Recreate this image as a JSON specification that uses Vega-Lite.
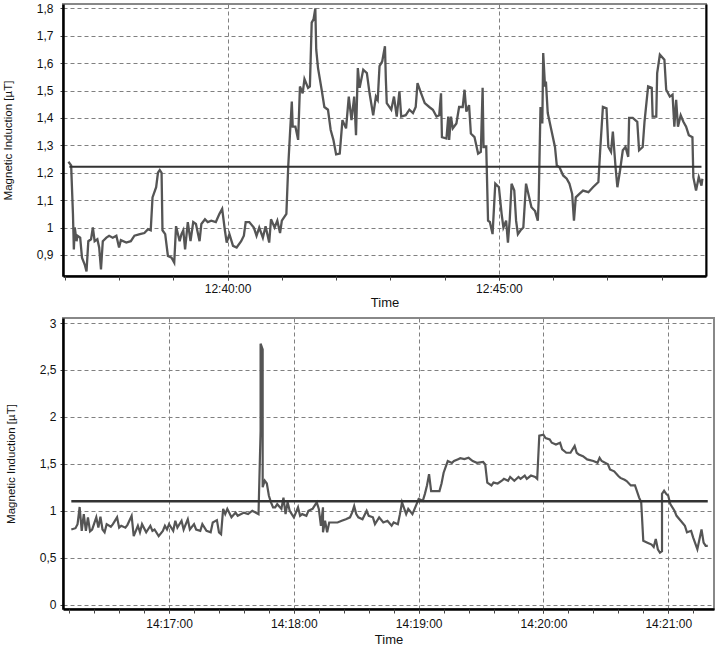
{
"$schema": "https://vega.github.io/schema/vega-lite/v6.json",
"padding": 1,
"spacing": 6,
"config": {
 "view": {"stroke": "#888", "strokeWidth": 2},
 "axis": {"labelFont": "Liberation Sans", "titleFont": "Liberation Sans", "labelFontSize": 12, "labelColor": "#111", "titleColor": "#111", "titleFontWeight": "normal", "domainColor": "#000", "domainWidth": 2.5, "tickColor": "#444", "tickWidth": 1, "gridColor": "#808080", "gridDash": [4, 3], "gridOpacity": 1, "gridWidth": 1, "labelOverlap": false, "labelFlush": false},
 "axisX": {"tickSize": 4, "labelPadding": 3, "titleFontSize": 13, "titlePadding": 2},
 "axisY": {"tickSize": 3, "labelPadding": 4, "titleFontSize": 11.5, "titlePadding": 23}
},
"vconcat": [
{
 "width": 643, "height": 272,
 "resolve": {"axis": {"x": "independent", "y": "independent"}},
 "layer": [
  {
   "data": {"values": [
{"t":"2020-01-01T12:37:04","v":1.24},{"t":"2020-01-01T12:37:07","v":1.227},{"t":"2020-01-01T12:37:09","v":1.05},{"t":"2020-01-01T12:37:10","v":0.92},{"t":"2020-01-01T12:37:11","v":1.0},{"t":"2020-01-01T12:37:13","v":0.95},{"t":"2020-01-01T12:37:14","v":0.97},{"t":"2020-01-01T12:37:17","v":0.963},{"t":"2020-01-01T12:37:19","v":0.89},{"t":"2020-01-01T12:37:22","v":0.865},{"t":"2020-01-01T12:37:24","v":0.84},{"t":"2020-01-01T12:37:26","v":0.95},{"t":"2020-01-01T12:37:29","v":0.957},{"t":"2020-01-01T12:37:31","v":1.0},{"t":"2020-01-01T12:37:33","v":0.95},{"t":"2020-01-01T12:37:36","v":0.957},{"t":"2020-01-01T12:37:38","v":0.927},{"t":"2020-01-01T12:37:40","v":0.847},{"t":"2020-01-01T12:37:42","v":0.95},{"t":"2020-01-01T12:37:46","v":0.963},{"t":"2020-01-01T12:37:49","v":0.97},{"t":"2020-01-01T12:37:53","v":0.963},{"t":"2020-01-01T12:37:57","v":0.97},{"t":"2020-01-01T12:38:00","v":0.927},{"t":"2020-01-01T12:38:02","v":0.954},{"t":"2020-01-01T12:38:08","v":0.945},{"t":"2020-01-01T12:38:13","v":0.95},{"t":"2020-01-01T12:38:17","v":0.97},{"t":"2020-01-01T12:38:23","v":0.976},{"t":"2020-01-01T12:38:28","v":0.98},{"t":"2020-01-01T12:38:32","v":0.994},{"t":"2020-01-01T12:38:35","v":0.99},{"t":"2020-01-01T12:38:37","v":1.11},{"t":"2020-01-01T12:38:41","v":1.147},{"t":"2020-01-01T12:38:43","v":1.2},{"t":"2020-01-01T12:38:45","v":1.21},{"t":"2020-01-01T12:38:47","v":1.2},{"t":"2020-01-01T12:38:48","v":0.99},{"t":"2020-01-01T12:38:51","v":0.976},{"t":"2020-01-01T12:38:54","v":0.896},{"t":"2020-01-01T12:38:58","v":0.89},{"t":"2020-01-01T12:39:01","v":0.872},{"t":"2020-01-01T12:39:03","v":1.005},{"t":"2020-01-01T12:39:07","v":0.95},{"t":"2020-01-01T12:39:09","v":0.976},{"t":"2020-01-01T12:39:11","v":0.99},{"t":"2020-01-01T12:39:13","v":0.92},{"t":"2020-01-01T12:39:16","v":1.02},{"t":"2020-01-01T12:39:19","v":0.95},{"t":"2020-01-01T12:39:22","v":1.02},{"t":"2020-01-01T12:39:25","v":1.013},{"t":"2020-01-01T12:39:29","v":0.95},{"t":"2020-01-01T12:39:31","v":1.013},{"t":"2020-01-01T12:39:35","v":1.03},{"t":"2020-01-01T12:39:38","v":1.02},{"t":"2020-01-01T12:39:42","v":1.025},{"t":"2020-01-01T12:39:47","v":1.02},{"t":"2020-01-01T12:39:51","v":1.05},{"t":"2020-01-01T12:39:54","v":1.068},{"t":"2020-01-01T12:39:57","v":0.99},{"t":"2020-01-01T12:39:59","v":0.945},{"t":"2020-01-01T12:40:02","v":0.976},{"t":"2020-01-01T12:40:06","v":0.933},{"t":"2020-01-01T12:40:10","v":0.927},{"t":"2020-01-01T12:40:15","v":0.95},{"t":"2020-01-01T12:40:18","v":0.97},{"t":"2020-01-01T12:40:20","v":1.02},{"t":"2020-01-01T12:40:24","v":1.02},{"t":"2020-01-01T12:40:29","v":1.0},{"t":"2020-01-01T12:40:32","v":0.97},{"t":"2020-01-01T12:40:35","v":1.0},{"t":"2020-01-01T12:40:39","v":0.963},{"t":"2020-01-01T12:40:42","v":1.005},{"t":"2020-01-01T12:40:46","v":0.945},{"t":"2020-01-01T12:40:48","v":1.03},{"t":"2020-01-01T12:40:52","v":1.0},{"t":"2020-01-01T12:40:55","v":1.025},{"t":"2020-01-01T12:40:58","v":0.98},{"t":"2020-01-01T12:41:00","v":1.025},{"t":"2020-01-01T12:41:05","v":1.05},{"t":"2020-01-01T12:41:07","v":1.22},{"t":"2020-01-01T12:41:09","v":1.343},{"t":"2020-01-01T12:41:11","v":1.46},{"t":"2020-01-01T12:41:12","v":1.368},{"t":"2020-01-01T12:41:15","v":1.368},{"t":"2020-01-01T12:41:18","v":1.32},{"t":"2020-01-01T12:41:20","v":1.515},{"t":"2020-01-01T12:41:23","v":1.49},{"t":"2020-01-01T12:41:25","v":1.542},{"t":"2020-01-01T12:41:29","v":1.51},{"t":"2020-01-01T12:41:31","v":1.515},{"t":"2020-01-01T12:41:33","v":1.748},{"t":"2020-01-01T12:41:35","v":1.76},{"t":"2020-01-01T12:41:37","v":1.8},{"t":"2020-01-01T12:41:38","v":1.65},{"t":"2020-01-01T12:41:40","v":1.582},{"t":"2020-01-01T12:41:44","v":1.503},{"t":"2020-01-01T12:41:47","v":1.44},{"t":"2020-01-01T12:41:51","v":1.43},{"t":"2020-01-01T12:41:54","v":1.356},{"t":"2020-01-01T12:41:57","v":1.32},{"t":"2020-01-01T12:42:00","v":1.267},{"t":"2020-01-01T12:42:04","v":1.27},{"t":"2020-01-01T12:42:07","v":1.392},{"t":"2020-01-01T12:42:11","v":1.362},{"t":"2020-01-01T12:42:14","v":1.478},{"t":"2020-01-01T12:42:17","v":1.392},{"t":"2020-01-01T12:42:20","v":1.478},{"t":"2020-01-01T12:42:22","v":1.337},{"t":"2020-01-01T12:42:24","v":1.582},{"t":"2020-01-01T12:42:26","v":1.51},{"t":"2020-01-01T12:42:30","v":1.576},{"t":"2020-01-01T12:42:34","v":1.564},{"t":"2020-01-01T12:42:37","v":1.49},{"t":"2020-01-01T12:42:41","v":1.41},{"t":"2020-01-01T12:42:44","v":1.478},{"t":"2020-01-01T12:42:46","v":1.466},{"t":"2020-01-01T12:42:48","v":1.589},{"t":"2020-01-01T12:42:51","v":1.607},{"t":"2020-01-01T12:42:54","v":1.662},{"t":"2020-01-01T12:42:55","v":1.54},{"t":"2020-01-01T12:42:56","v":1.454},{"t":"2020-01-01T12:43:01","v":1.43},{"t":"2020-01-01T12:43:04","v":1.478},{"t":"2020-01-01T12:43:07","v":1.405},{"t":"2020-01-01T12:43:10","v":1.497},{"t":"2020-01-01T12:43:12","v":1.405},{"t":"2020-01-01T12:43:17","v":1.41},{"t":"2020-01-01T12:43:21","v":1.43},{"t":"2020-01-01T12:43:25","v":1.418},{"t":"2020-01-01T12:43:28","v":1.44},{"t":"2020-01-01T12:43:30","v":1.527},{"t":"2020-01-01T12:43:34","v":1.49},{"t":"2020-01-01T12:43:38","v":1.454},{"t":"2020-01-01T12:43:43","v":1.44},{"t":"2020-01-01T12:43:47","v":1.43},{"t":"2020-01-01T12:43:51","v":1.405},{"t":"2020-01-01T12:43:54","v":1.41},{"t":"2020-01-01T12:43:56","v":1.49},{"t":"2020-01-01T12:43:57","v":1.33},{"t":"2020-01-01T12:44:02","v":1.325},{"t":"2020-01-01T12:44:04","v":1.405},{"t":"2020-01-01T12:44:05","v":1.32},{"t":"2020-01-01T12:44:07","v":1.405},{"t":"2020-01-01T12:44:09","v":1.362},{"t":"2020-01-01T12:44:13","v":1.38},{"t":"2020-01-01T12:44:16","v":1.44},{"t":"2020-01-01T12:44:20","v":1.44},{"t":"2020-01-01T12:44:22","v":1.503},{"t":"2020-01-01T12:44:24","v":1.423},{"t":"2020-01-01T12:44:27","v":1.447},{"t":"2020-01-01T12:44:29","v":1.343},{"t":"2020-01-01T12:44:33","v":1.33},{"t":"2020-01-01T12:44:37","v":1.27},{"t":"2020-01-01T12:44:40","v":1.276},{"t":"2020-01-01T12:44:42","v":1.51},{"t":"2020-01-01T12:44:43","v":1.294},{"t":"2020-01-01T12:44:46","v":1.294},{"t":"2020-01-01T12:44:48","v":1.025},{"t":"2020-01-01T12:44:50","v":1.02},{"t":"2020-01-01T12:44:53","v":0.976},{"t":"2020-01-01T12:44:56","v":1.16},{"t":"2020-01-01T12:45:00","v":1.147},{"t":"2020-01-01T12:45:03","v":1.05},{"t":"2020-01-01T12:45:05","v":1.0},{"t":"2020-01-01T12:45:08","v":1.025},{"t":"2020-01-01T12:45:10","v":0.945},{"t":"2020-01-01T12:45:12","v":1.03},{"t":"2020-01-01T12:45:14","v":1.16},{"t":"2020-01-01T12:45:17","v":1.135},{"t":"2020-01-01T12:45:19","v":1.025},{"t":"2020-01-01T12:45:21","v":0.976},{"t":"2020-01-01T12:45:24","v":0.99},{"t":"2020-01-01T12:45:27","v":1.0},{"t":"2020-01-01T12:45:30","v":1.16},{"t":"2020-01-01T12:45:33","v":1.117},{"t":"2020-01-01T12:45:36","v":1.074},{"t":"2020-01-01T12:45:40","v":1.06},{"t":"2020-01-01T12:45:43","v":1.025},{"t":"2020-01-01T12:45:44","v":1.1},{"t":"2020-01-01T12:45:46","v":1.44},{"t":"2020-01-01T12:45:48","v":1.38},{"t":"2020-01-01T12:45:49","v":1.637},{"t":"2020-01-01T12:45:51","v":1.515},{"t":"2020-01-01T12:45:52","v":1.533},{"t":"2020-01-01T12:45:54","v":1.418},{"t":"2020-01-01T12:45:58","v":1.356},{"t":"2020-01-01T12:46:02","v":1.294},{"t":"2020-01-01T12:46:04","v":1.227},{"t":"2020-01-01T12:46:07","v":1.22},{"t":"2020-01-01T12:46:11","v":1.19},{"t":"2020-01-01T12:46:15","v":1.178},{"t":"2020-01-01T12:46:18","v":1.16},{"t":"2020-01-01T12:46:21","v":1.123},{"t":"2020-01-01T12:46:23","v":1.025},{"t":"2020-01-01T12:46:25","v":1.11},{"t":"2020-01-01T12:46:29","v":1.123},{"t":"2020-01-01T12:46:33","v":1.135},{"t":"2020-01-01T12:46:39","v":1.129},{"t":"2020-01-01T12:46:44","v":1.147},{"t":"2020-01-01T12:46:50","v":1.166},{"t":"2020-01-01T12:46:52","v":1.282},{"t":"2020-01-01T12:46:55","v":1.44},{"t":"2020-01-01T12:46:59","v":1.435},{"t":"2020-01-01T12:47:01","v":1.294},{"t":"2020-01-01T12:47:04","v":1.276},{"t":"2020-01-01T12:47:06","v":1.35},{"t":"2020-01-01T12:47:09","v":1.22},{"t":"2020-01-01T12:47:11","v":1.147},{"t":"2020-01-01T12:47:14","v":1.209},{"t":"2020-01-01T12:47:17","v":1.282},{"t":"2020-01-01T12:47:20","v":1.294},{"t":"2020-01-01T12:47:23","v":1.258},{"t":"2020-01-01T12:47:24","v":1.4},{"t":"2020-01-01T12:47:28","v":1.4},{"t":"2020-01-01T12:47:33","v":1.386},{"t":"2020-01-01T12:47:35","v":1.282},{"t":"2020-01-01T12:47:39","v":1.294},{"t":"2020-01-01T12:47:41","v":1.386},{"t":"2020-01-01T12:47:45","v":1.515},{"t":"2020-01-01T12:47:49","v":1.51},{"t":"2020-01-01T12:47:50","v":1.405},{"t":"2020-01-01T12:47:54","v":1.405},{"t":"2020-01-01T12:47:55","v":1.564},{"t":"2020-01-01T12:47:58","v":1.631},{"t":"2020-01-01T12:48:03","v":1.613},{"t":"2020-01-01T12:48:05","v":1.503},{"t":"2020-01-01T12:48:09","v":1.478},{"t":"2020-01-01T12:48:12","v":1.485},{"t":"2020-01-01T12:48:14","v":1.368},{"t":"2020-01-01T12:48:16","v":1.466},{"t":"2020-01-01T12:48:18","v":1.368},{"t":"2020-01-01T12:48:21","v":1.41},{"t":"2020-01-01T12:48:24","v":1.386},{"t":"2020-01-01T12:48:27","v":1.368},{"t":"2020-01-01T12:48:30","v":1.337},{"t":"2020-01-01T12:48:34","v":1.33},{"t":"2020-01-01T12:48:35","v":1.184},{"t":"2020-01-01T12:48:38","v":1.135},{"t":"2020-01-01T12:48:41","v":1.184},{"t":"2020-01-01T12:48:44","v":1.153},{"t":"2020-01-01T12:48:45","v":1.178}
   ]},
   "mark": {"type": "line", "color": "#555555", "strokeWidth": 2.3},
   "encoding": {
    "x": {"field": "t", "type": "temporal",
      "scale": {"domain": [{"year": 2020, "month": 1, "date": 1, "hours": 12, "minutes": 36, "seconds": 58}, {"year": 2020, "month": 1, "date": 1, "hours": 12, "minutes": 48, "seconds": 49}]},
      "axis": {"title": "Time", "format": "%H:%M:%S", "values": [{"year": 2020, "month": 1, "date": 1, "hours": 12, "minutes": 40}, {"year": 2020, "month": 1, "date": 1, "hours": 12, "minutes": 45}], "grid": true}},
    "y": {"field": "v", "type": "quantitative",
      "scale": {"domain": [0.823, 1.816], "nice": false, "zero": false},
      "axis": {"title": "Magnetic Induction [µT]", "values": [0.9, 1, 1.1, 1.2, 1.3, 1.4, 1.5, 1.6, 1.7, 1.8], "labelExpr": "replace(format(datum.value, '~g'), '.', ',')", "labelOverlap": false, "grid": true, "labelPadding": 7}}
   }
  },
  {
   "data": {"values": [{"t1": "2020-01-01T12:37:05", "t2": "2020-01-01T12:48:44", "v": 1.222}]},
   "mark": {"type": "rule", "color": "#333333", "strokeWidth": 2},
   "encoding": {
    "x": {"field": "t1", "type": "temporal", "axis": {"orient": "bottom", "title": null, "labels": false, "grid": false, "domain": false, "tickCount": 12, "tickSize": 4}},
    "x2": {"field": "t2"},
    "y": {"field": "v", "type": "quantitative", "axis": {"orient": "right", "title": null, "labels": false, "ticks": false, "grid": false, "domainColor": "#000", "domainWidth": 2}}
   }
  }
 ]
},
{
 "width": 651, "height": 291,
 "resolve": {"axis": {"x": "independent"}},
 "layer": [
  {
   "data": {"values": [
{"t":"2020-01-01T14:16:13","v":0.8},{"t":"2020-01-01T14:16:15","v":0.814},{"t":"2020-01-01T14:16:16","v":0.857},{"t":"2020-01-01T14:16:17","v":1.04},{"t":"2020-01-01T14:16:18","v":0.786},{"t":"2020-01-01T14:16:19","v":0.964},{"t":"2020-01-01T14:16:20","v":0.786},{"t":"2020-01-01T14:16:21","v":0.93},{"t":"2020-01-01T14:16:22","v":0.78},{"t":"2020-01-01T14:16:23","v":0.8},{"t":"2020-01-01T14:16:25","v":0.93},{"t":"2020-01-01T14:16:26","v":0.82},{"t":"2020-01-01T14:16:27","v":0.936},{"t":"2020-01-01T14:16:28","v":0.8},{"t":"2020-01-01T14:16:29","v":0.77},{"t":"2020-01-01T14:16:30","v":0.857},{"t":"2020-01-01T14:16:32","v":0.83},{"t":"2020-01-01T14:16:33","v":0.857},{"t":"2020-01-01T14:16:35","v":0.93},{"t":"2020-01-01T14:16:36","v":0.82},{"t":"2020-01-01T14:16:37","v":0.84},{"t":"2020-01-01T14:16:39","v":0.82},{"t":"2020-01-01T14:16:40","v":0.85},{"t":"2020-01-01T14:16:42","v":0.946},{"t":"2020-01-01T14:16:43","v":0.73},{"t":"2020-01-01T14:16:45","v":0.84},{"t":"2020-01-01T14:16:46","v":0.77},{"t":"2020-01-01T14:16:47","v":0.857},{"t":"2020-01-01T14:16:49","v":0.77},{"t":"2020-01-01T14:16:51","v":0.84},{"t":"2020-01-01T14:16:52","v":0.786},{"t":"2020-01-01T14:16:53","v":0.8},{"t":"2020-01-01T14:16:55","v":0.73},{"t":"2020-01-01T14:16:57","v":0.786},{"t":"2020-01-01T14:16:58","v":0.84},{"t":"2020-01-01T14:16:59","v":0.8},{"t":"2020-01-01T14:17:00","v":0.857},{"t":"2020-01-01T14:17:02","v":0.786},{"t":"2020-01-01T14:17:03","v":0.893},{"t":"2020-01-01T14:17:04","v":0.82},{"t":"2020-01-01T14:17:06","v":0.893},{"t":"2020-01-01T14:17:07","v":0.8},{"t":"2020-01-01T14:17:09","v":0.91},{"t":"2020-01-01T14:17:10","v":0.8},{"t":"2020-01-01T14:17:12","v":0.857},{"t":"2020-01-01T14:17:13","v":0.8},{"t":"2020-01-01T14:17:15","v":0.786},{"t":"2020-01-01T14:17:16","v":0.857},{"t":"2020-01-01T14:17:18","v":0.786},{"t":"2020-01-01T14:17:20","v":0.77},{"t":"2020-01-01T14:17:21","v":0.875},{"t":"2020-01-01T14:17:23","v":0.9},{"t":"2020-01-01T14:17:24","v":0.77},{"t":"2020-01-01T14:17:25","v":0.75},{"t":"2020-01-01T14:17:26","v":1.02},{"t":"2020-01-01T14:17:27","v":0.964},{"t":"2020-01-01T14:17:28","v":1.02},{"t":"2020-01-01T14:17:30","v":0.93},{"t":"2020-01-01T14:17:32","v":0.98},{"t":"2020-01-01T14:17:33","v":0.946},{"t":"2020-01-01T14:17:36","v":0.98},{"t":"2020-01-01T14:17:38","v":0.964},{"t":"2020-01-01T14:17:40","v":1.0},{"t":"2020-01-01T14:17:43","v":0.964},{"t":"2020-01-01T14:17:44","v":1.85},{"t":"2020-01-01T14:17:44","v":2.78},{"t":"2020-01-01T14:17:45","v":2.72},{"t":"2020-01-01T14:17:45","v":1.95},{"t":"2020-01-01T14:17:45","v":1.25},{"t":"2020-01-01T14:17:46","v":1.32},{"t":"2020-01-01T14:17:47","v":1.29},{"t":"2020-01-01T14:17:48","v":1.16},{"t":"2020-01-01T14:17:49","v":1.09},{"t":"2020-01-01T14:17:50","v":1.036},{"t":"2020-01-01T14:17:51","v":1.036},{"t":"2020-01-01T14:17:52","v":1.07},{"t":"2020-01-01T14:17:54","v":1.02},{"t":"2020-01-01T14:17:55","v":1.14},{"t":"2020-01-01T14:17:56","v":0.964},{"t":"2020-01-01T14:17:57","v":1.09},{"t":"2020-01-01T14:17:58","v":1.0},{"t":"2020-01-01T14:17:59","v":0.964},{"t":"2020-01-01T14:18:00","v":0.93},{"t":"2020-01-01T14:18:02","v":1.036},{"t":"2020-01-01T14:18:03","v":0.946},{"t":"2020-01-01T14:18:04","v":0.964},{"t":"2020-01-01T14:18:06","v":0.946},{"t":"2020-01-01T14:18:07","v":1.0},{"t":"2020-01-01T14:18:09","v":1.02},{"t":"2020-01-01T14:18:11","v":1.09},{"t":"2020-01-01T14:18:12","v":1.02},{"t":"2020-01-01T14:18:13","v":0.84},{"t":"2020-01-01T14:18:14","v":1.036},{"t":"2020-01-01T14:18:14","v":0.77},{"t":"2020-01-01T14:18:15","v":0.893},{"t":"2020-01-01T14:18:16","v":0.77},{"t":"2020-01-01T14:18:17","v":0.875},{"t":"2020-01-01T14:18:19","v":0.875},{"t":"2020-01-01T14:18:21","v":0.875},{"t":"2020-01-01T14:18:23","v":0.893},{"t":"2020-01-01T14:18:25","v":0.91},{"t":"2020-01-01T14:18:27","v":0.93},{"t":"2020-01-01T14:18:28","v":0.98},{"t":"2020-01-01T14:18:29","v":1.05},{"t":"2020-01-01T14:18:30","v":0.964},{"t":"2020-01-01T14:18:31","v":0.93},{"t":"2020-01-01T14:18:33","v":0.91},{"t":"2020-01-01T14:18:35","v":1.0},{"t":"2020-01-01T14:18:36","v":0.946},{"t":"2020-01-01T14:18:38","v":0.93},{"t":"2020-01-01T14:18:39","v":0.857},{"t":"2020-01-01T14:18:41","v":0.93},{"t":"2020-01-01T14:18:43","v":0.875},{"t":"2020-01-01T14:18:45","v":0.893},{"t":"2020-01-01T14:18:47","v":0.84},{"t":"2020-01-01T14:18:48","v":0.875},{"t":"2020-01-01T14:18:50","v":0.857},{"t":"2020-01-01T14:18:51","v":0.964},{"t":"2020-01-01T14:18:52","v":1.09},{"t":"2020-01-01T14:18:54","v":0.964},{"t":"2020-01-01T14:18:55","v":1.02},{"t":"2020-01-01T14:18:57","v":0.964},{"t":"2020-01-01T14:18:59","v":1.07},{"t":"2020-01-01T14:19:00","v":1.125},{"t":"2020-01-01T14:19:02","v":1.107},{"t":"2020-01-01T14:19:03","v":1.18},{"t":"2020-01-01T14:19:04","v":1.27},{"t":"2020-01-01T14:19:05","v":1.39},{"t":"2020-01-01T14:19:06","v":1.21},{"t":"2020-01-01T14:19:08","v":1.21},{"t":"2020-01-01T14:19:10","v":1.21},{"t":"2020-01-01T14:19:11","v":1.29},{"t":"2020-01-01T14:19:12","v":1.405},{"t":"2020-01-01T14:19:14","v":1.53},{"t":"2020-01-01T14:19:16","v":1.51},{"t":"2020-01-01T14:19:17","v":1.53},{"t":"2020-01-01T14:19:19","v":1.55},{"t":"2020-01-01T14:19:20","v":1.56},{"t":"2020-01-01T14:19:22","v":1.55},{"t":"2020-01-01T14:19:24","v":1.564},{"t":"2020-01-01T14:19:26","v":1.53},{"t":"2020-01-01T14:19:28","v":1.511},{"t":"2020-01-01T14:19:31","v":1.52},{"t":"2020-01-01T14:19:32","v":1.494},{"t":"2020-01-01T14:19:33","v":1.3},{"t":"2020-01-01T14:19:35","v":1.27},{"t":"2020-01-01T14:19:36","v":1.3},{"t":"2020-01-01T14:19:38","v":1.29},{"t":"2020-01-01T14:19:40","v":1.32},{"t":"2020-01-01T14:19:41","v":1.34},{"t":"2020-01-01T14:19:43","v":1.32},{"t":"2020-01-01T14:19:44","v":1.36},{"t":"2020-01-01T14:19:46","v":1.32},{"t":"2020-01-01T14:19:48","v":1.36},{"t":"2020-01-01T14:19:49","v":1.34},{"t":"2020-01-01T14:19:51","v":1.375},{"t":"2020-01-01T14:19:52","v":1.34},{"t":"2020-01-01T14:19:54","v":1.375},{"t":"2020-01-01T14:19:56","v":1.36},{"t":"2020-01-01T14:19:57","v":1.34},{"t":"2020-01-01T14:19:58","v":1.8},{"t":"2020-01-01T14:20:00","v":1.81},{"t":"2020-01-01T14:20:01","v":1.775},{"t":"2020-01-01T14:20:03","v":1.76},{"t":"2020-01-01T14:20:04","v":1.725},{"t":"2020-01-01T14:20:06","v":1.705},{"t":"2020-01-01T14:20:08","v":1.725},{"t":"2020-01-01T14:20:09","v":1.653},{"t":"2020-01-01T14:20:11","v":1.618},{"t":"2020-01-01T14:20:13","v":1.618},{"t":"2020-01-01T14:20:15","v":1.69},{"t":"2020-01-01T14:20:16","v":1.618},{"t":"2020-01-01T14:20:17","v":1.6},{"t":"2020-01-01T14:20:19","v":1.582},{"t":"2020-01-01T14:20:21","v":1.547},{"t":"2020-01-01T14:20:24","v":1.53},{"t":"2020-01-01T14:20:26","v":1.511},{"t":"2020-01-01T14:20:27","v":1.564},{"t":"2020-01-01T14:20:28","v":1.53},{"t":"2020-01-01T14:20:31","v":1.494},{"t":"2020-01-01T14:20:32","v":1.44},{"t":"2020-01-01T14:20:34","v":1.42},{"t":"2020-01-01T14:20:36","v":1.37},{"t":"2020-01-01T14:20:37","v":1.35},{"t":"2020-01-01T14:20:39","v":1.33},{"t":"2020-01-01T14:20:40","v":1.316},{"t":"2020-01-01T14:20:42","v":1.27},{"t":"2020-01-01T14:20:44","v":1.27},{"t":"2020-01-01T14:20:46","v":1.14},{"t":"2020-01-01T14:20:47","v":1.09},{"t":"2020-01-01T14:20:48","v":0.68},{"t":"2020-01-01T14:20:50","v":0.66},{"t":"2020-01-01T14:20:52","v":0.64},{"t":"2020-01-01T14:20:53","v":0.614},{"t":"2020-01-01T14:20:54","v":0.7},{"t":"2020-01-01T14:20:55","v":0.59},{"t":"2020-01-01T14:20:56","v":0.553},{"t":"2020-01-01T14:20:57","v":0.57},{"t":"2020-01-01T14:20:57","v":1.18},{"t":"2020-01-01T14:20:58","v":1.214},{"t":"2020-01-01T14:20:59","v":1.18},{"t":"2020-01-01T14:21:00","v":1.16},{"t":"2020-01-01T14:21:01","v":1.07},{"t":"2020-01-01T14:21:03","v":1.0},{"t":"2020-01-01T14:21:04","v":0.946},{"t":"2020-01-01T14:21:06","v":0.893},{"t":"2020-01-01T14:21:08","v":0.84},{"t":"2020-01-01T14:21:09","v":0.77},{"t":"2020-01-01T14:21:11","v":0.786},{"t":"2020-01-01T14:21:12","v":0.714},{"t":"2020-01-01T14:21:14","v":0.59},{"t":"2020-01-01T14:21:16","v":0.8},{"t":"2020-01-01T14:21:17","v":0.66},{"t":"2020-01-01T14:21:18","v":0.625},{"t":"2020-01-01T14:21:19","v":0.625}
   ]},
   "mark": {"type": "line", "color": "#555555", "strokeWidth": 2.2},
   "encoding": {
    "x": {"field": "t", "type": "temporal",
      "scale": {"domain": [{"year": 2020, "month": 1, "date": 1, "hours": 14, "minutes": 16, "seconds": 9}, {"year": 2020, "month": 1, "date": 1, "hours": 14, "minutes": 21, "seconds": 22}]},
      "axis": {"title": "Time", "format": "%H:%M:%S", "tickCount": 6, "grid": true, "labelPadding": 5, "titlePadding": 4}},
    "y": {"field": "v", "type": "quantitative",
      "scale": {"domain": [-0.047, 3.054], "nice": false, "zero": false},
      "axis": {"title": "Magnetic Induction [µT]", "values": [0, 0.5, 1, 1.5, 2, 2.5, 3], "labelExpr": "replace(format(datum.value, '~g'), '.', ',')", "labelOverlap": false, "grid": true}}
   }
  },
  {
   "data": {"values": [{"t1": "2020-01-01T14:16:13", "t2": "2020-01-01T14:21:19", "v": 1.1}]},
   "mark": {"type": "rule", "color": "#333333", "strokeWidth": 2.5},
   "encoding": {
    "x": {"field": "t1", "type": "temporal", "axis": {"orient": "bottom", "title": null, "labels": false, "grid": false, "domain": false, "tickSize": 4,
      "values": [
       {"year": 2020, "month": 1, "date": 1, "hours": 14, "minutes": 16, "seconds": 12},
       {"year": 2020, "month": 1, "date": 1, "hours": 14, "minutes": 16, "seconds": 24},
       {"year": 2020, "month": 1, "date": 1, "hours": 14, "minutes": 16, "seconds": 36},
       {"year": 2020, "month": 1, "date": 1, "hours": 14, "minutes": 16, "seconds": 48},
       {"year": 2020, "month": 1, "date": 1, "hours": 14, "minutes": 17, "seconds": 0},
       {"year": 2020, "month": 1, "date": 1, "hours": 14, "minutes": 17, "seconds": 12},
       {"year": 2020, "month": 1, "date": 1, "hours": 14, "minutes": 17, "seconds": 24},
       {"year": 2020, "month": 1, "date": 1, "hours": 14, "minutes": 17, "seconds": 36},
       {"year": 2020, "month": 1, "date": 1, "hours": 14, "minutes": 17, "seconds": 48},
       {"year": 2020, "month": 1, "date": 1, "hours": 14, "minutes": 18, "seconds": 0},
       {"year": 2020, "month": 1, "date": 1, "hours": 14, "minutes": 18, "seconds": 12},
       {"year": 2020, "month": 1, "date": 1, "hours": 14, "minutes": 18, "seconds": 24},
       {"year": 2020, "month": 1, "date": 1, "hours": 14, "minutes": 18, "seconds": 36},
       {"year": 2020, "month": 1, "date": 1, "hours": 14, "minutes": 18, "seconds": 48},
       {"year": 2020, "month": 1, "date": 1, "hours": 14, "minutes": 19, "seconds": 0},
       {"year": 2020, "month": 1, "date": 1, "hours": 14, "minutes": 19, "seconds": 12},
       {"year": 2020, "month": 1, "date": 1, "hours": 14, "minutes": 19, "seconds": 24},
       {"year": 2020, "month": 1, "date": 1, "hours": 14, "minutes": 19, "seconds": 36},
       {"year": 2020, "month": 1, "date": 1, "hours": 14, "minutes": 19, "seconds": 48},
       {"year": 2020, "month": 1, "date": 1, "hours": 14, "minutes": 20, "seconds": 0},
       {"year": 2020, "month": 1, "date": 1, "hours": 14, "minutes": 20, "seconds": 12},
       {"year": 2020, "month": 1, "date": 1, "hours": 14, "minutes": 20, "seconds": 24},
       {"year": 2020, "month": 1, "date": 1, "hours": 14, "minutes": 20, "seconds": 36},
       {"year": 2020, "month": 1, "date": 1, "hours": 14, "minutes": 20, "seconds": 48},
       {"year": 2020, "month": 1, "date": 1, "hours": 14, "minutes": 21, "seconds": 0},
       {"year": 2020, "month": 1, "date": 1, "hours": 14, "minutes": 21, "seconds": 12}
      ]}},
    "x2": {"field": "t2"},
    "y": {"field": "v", "type": "quantitative"}
   }
  }
 ]
}
]
}
